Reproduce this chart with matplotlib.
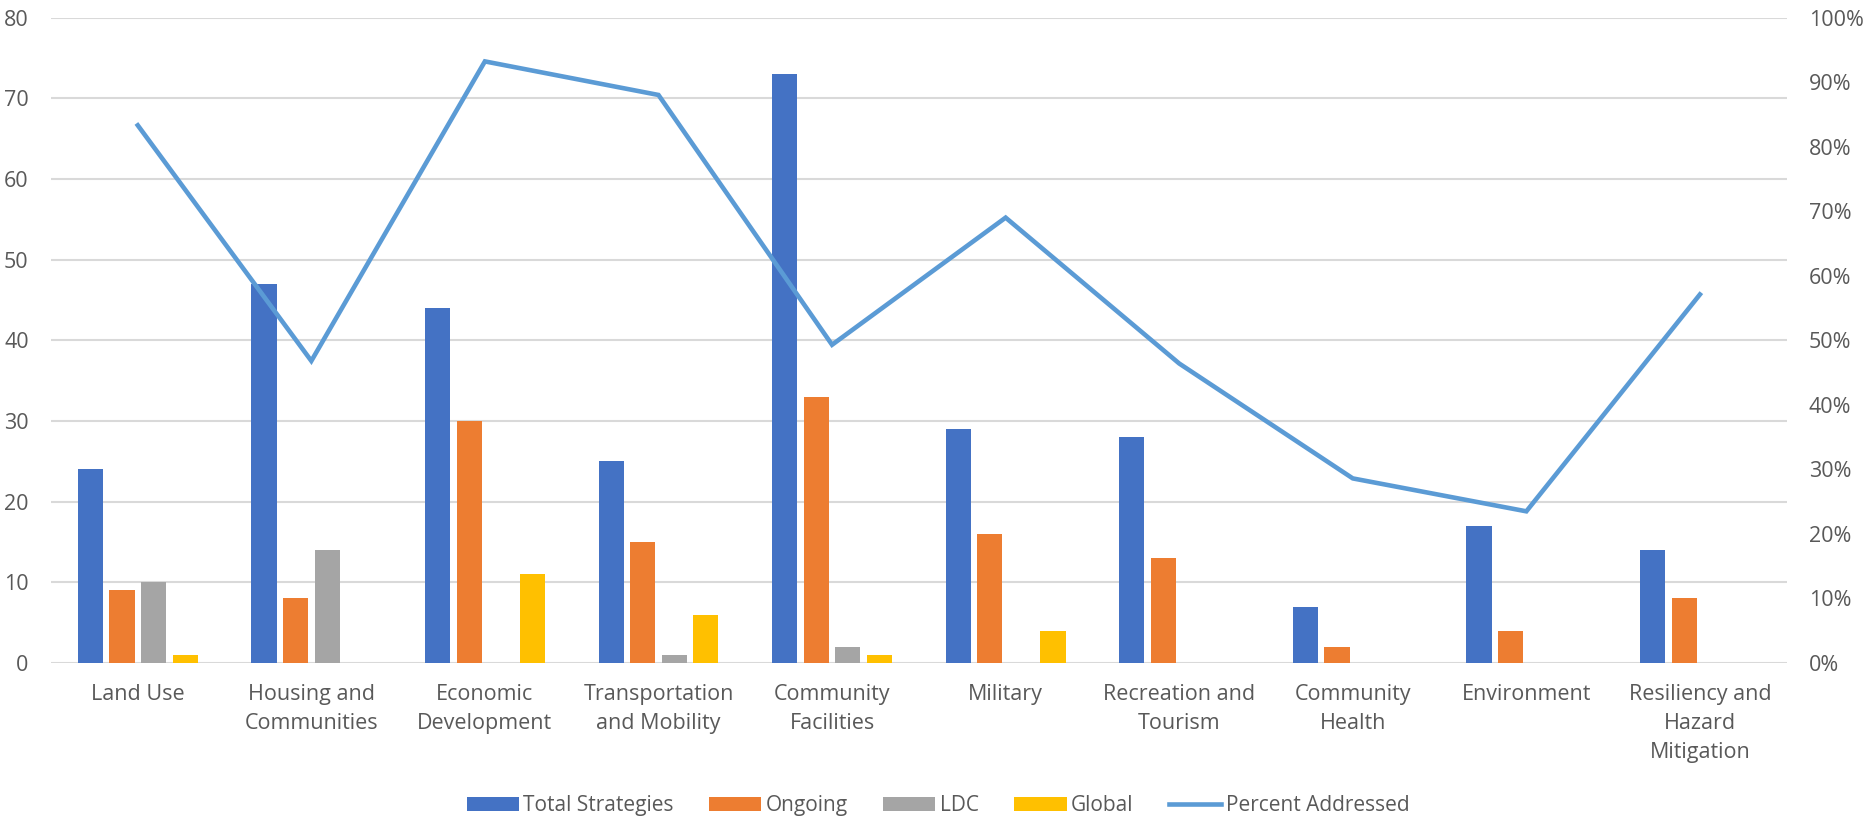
import matplotlib
matplotlib.use("Agg")
import matplotlib.pyplot as plt
import numpy as np
from matplotlib.ticker import FuncFormatter

categories = ["Land Use", "Housing and\nCommunities", "Economic\nDevelopment",
              "Transportation\nand Mobility", "Community\nFacilities", "Military",
              "Recreation and\nTourism", "Community\nHealth", "Environment",
              "Resiliency and\nHazard\nMitigation"]
total_strategies = [24, 47, 44, 25, 73, 29, 28, 7, 17, 14]
ongoing = [9, 8, 30, 15, 33, 16, 13, 2, 4, 8]
ldc = [10, 14, 0, 1, 2, 0, 0, 0, 0, 0]
global_ = [1, 0, 11, 6, 1, 4, 0, 0, 0, 0]
percent_addressed = [83.3, 46.8, 93.2, 88.0, 49.3, 69.0, 46.4, 28.6, 23.5, 57.1]

series_names = ["Total Strategies", "Ongoing", "LDC", "Global"]
series_colors = ["#4472C4", "#ED7D31", "#A5A5A5", "#FFC000"]
line_color = "#5B9BD5"
text_color = "#595959"
grid_color = "#D9D9D9"

plt.rcParams['font.family'] = ['Open Sans', 'DejaVu Sans']

fig = plt.figure(figsize=(18.67, 8.22), dpi=100)
ax = fig.add_axes([0.0273, 0.1934, 0.9297, 0.7853])
ax2 = ax.twinx()

x = np.arange(len(categories))
width = 0.145
step = 0.182
all_series = [total_strategies, ongoing, ldc, global_]
handles = []
for i, (vals, name, col) in enumerate(zip(all_series, series_names, series_colors)):
    b = ax.bar(x + (i - 1.5) * step, vals, width, color=col, label=name, zorder=3)
    handles.append(b)

ln, = ax2.plot(x, percent_addressed, color=line_color, lw=3.3, label="Percent Addressed",
               solid_joinstyle='miter', zorder=4)
handles.append(ln)

ax.set_xlim(-0.5, len(categories) - 0.5)
ax.set_ylim(0, 80)
ax.set_yticks(np.arange(0, 81, 10))
ax2.set_ylim(0, 100)
ax2.set_yticks(np.arange(0, 101, 10))
ax2.yaxis.set_major_formatter(FuncFormatter(lambda v, p: f"{int(v)}%"))

ax.grid(axis='y', color=grid_color, lw=1.5, zorder=0)
ax.set_axisbelow(True)

for a in (ax, ax2):
    for s in a.spines.values():
        s.set_visible(False)

ax.set_xticks(x)
ax.set_xticklabels(categories, fontsize=15.5, color=text_color, linespacing=1.5)
ax.tick_params(axis='x', length=0, pad=15)
ax.tick_params(axis='y', length=0, pad=16, labelsize=15.5, labelcolor=text_color)
ax2.tick_params(axis='y', length=0, pad=16, labelsize=15.5, labelcolor=text_color)

leg = fig.legend(handles=handles, labels=series_names + ["Percent Addressed"],
                 loc='center', bbox_to_anchor=(0.5024, 0.0195), ncol=5, frameon=False,
                 handlelength=2.5, handleheight=0.62, handletextpad=0.22,
                 columnspacing=1.7,
                 prop={'family': ['Open Sans'], 'size': 15})
for t in leg.get_texts():
    t.set_color(text_color)

fig.savefig("out.png", dpi=100)
